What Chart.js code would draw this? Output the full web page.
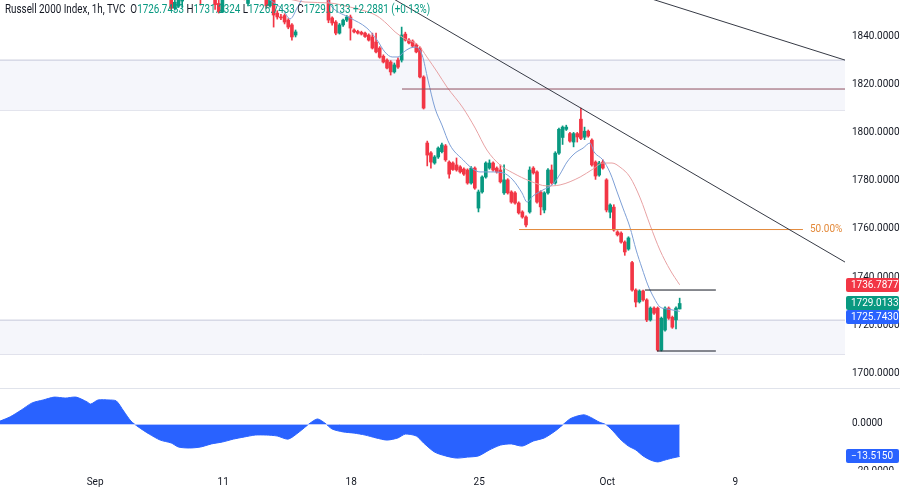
<!DOCTYPE html>
<html>
<head>
<meta charset="utf-8">
<title>Russell 2000 Index, 1h</title>
<script src="https://cdn.jsdelivr.net/npm/chart.js@4.4.0/dist/chart.umd.min.js"></script>
<style>
  html, body { margin: 0; padding: 0; background: #fff; }
  #wrap { position: relative; width: 900px; height: 491px; }
  #title {
    position: absolute; left: 5px; top: 2px;
    font: 12px Roboto, sans-serif;
    color: #131722; white-space: nowrap;
    transform: scaleX(0.82); transform-origin: 0 0;
  }
  #title .v { color: #089981; }
</style>
</head>
<body>
<div id="wrap">
  <canvas id="rutChart" width="900" height="491"></canvas>
  <div id="title">Russell 2000 Index, 1h, TVC&nbsp; O<span class="v">1726.7433</span> H<span class="v">1731.2324</span> L<span class="v">1726.7433</span> C<span class="v">1729.0133</span> <span class="v">+2.2881 (+0.13%)</span></div>
</div>
<script>
// hourly bars, x = bar number (the first visible candle is bar 46)
const firstBar = 46;

const opens = [
  1857.0,1851.5,1852.5,1854.5,1857.5,1859.0,1860.5,1858.5,1860.0,1858.0,
  1861.0,1860.0,1857.0,1853.5,1850.0,1856.5,1859.5,1860.5,1859.0,1858.0,
  1857.5,1853.5,1857.5,1860.0,1859.0,1858.5,1857.0,1852.5,1857.0,1849.5,
  1847.9,1848.5,1846.6,1844.6,1840.4,1857.0,1858.5,1861.0,1860.0,1861.5,
  1859.5,1860.5,1859.0,1857.0,1847.5,1845.8,1841.2,1844.6,1846.6,1847.9,
  1842.5,1841.9,1841.5,1841.2,1840.4,1839.6,1837.5,1835.0,1831.6,1830.0,
  1829.2,1825.1,1830.0,1830.0,1840.8,1838.3,1837.9,1836.3,1835.0,1823.0,
  1795.6,1791.5,1787.3,1789.8,1792.0,1794.4,1787.7,1787.3,1786.5,1785.7,
  1784.8,1784.4,1779.0,1785.2,1768.6,1775.3,1781.5,1785.2,1787.3,1785.2,
  1784.4,1774.9,1780.3,1775.3,1774.9,1770.7,1767.0,1764.9,1767.0,1785.2,
  1783.6,1775.3,1767.8,1774.9,1784.4,1779.0,1791.4,1797.9,1801.3,1799.5,
  1796.0,1799.5,1805.5,1798.0,1800.5,1796.8,1787.7,1782.3,1787.7,1780.3,
  1766.9,1769.0,1758.7,1758.2,1754.5,1751.6,1746.0,1734.6,1729.7,1734.2,
  1730.5,1722.2,1727.1,1727.1,1709.7,1718.0,1727.1,1723.3,1722.2,1726.7433
];
const highs = [
  1859.5,1855.5,1857.0,1859.0,1861.0,1862.0,1862.5,1861.0,1861.5,1862.0,
  1863.0,1861.5,1858.0,1855.5,1857.0,1860.5,1862.0,1862.5,1861.0,1860.5,
  1858.5,1858.5,1861.0,1862.0,1861.0,1860.5,1858.5,1857.5,1858.0,1850.5,
  1849.0,1849.2,1847.2,1845.2,1842.5,1860.0,1862.0,1863.5,1862.0,1863.0,
  1861.5,1862.0,1860.5,1858.5,1848.0,1846.4,1845.2,1847.0,1848.5,1848.7,
  1843.0,1842.4,1842.0,1841.6,1840.9,1841.2,1841.2,1835.6,1832.2,1830.5,
  1829.8,1828.8,1830.9,1843.7,1841.6,1838.9,1838.4,1836.9,1835.5,1823.5,
  1796.4,1792.0,1790.4,1794.0,1795.6,1795.0,1788.2,1787.8,1789.4,1786.2,
  1785.3,1784.9,1785.8,1785.7,1776.1,1782.0,1787.8,1788.6,1787.8,1785.7,
  1786.5,1786.5,1780.8,1775.8,1775.4,1771.2,1767.5,1765.4,1785.7,1785.8,
  1784.1,1775.8,1775.4,1785.0,1786.5,1792.0,1801.8,1802.7,1803.0,1800.0,
  1800.0,1800.0,1810.1,1802.2,1801.0,1797.3,1788.2,1788.0,1788.6,1780.8,
  1770.4,1770.0,1759.2,1758.7,1755.0,1756.7,1746.5,1735.1,1734.7,1734.6,
  1731.0,1727.6,1727.6,1727.6,1723.4,1727.6,1727.6,1723.8,1727.6,1731.2324
];
const lows = [
  1850.5,1850.8,1851.8,1852.0,1855.5,1857.0,1857.5,1856.5,1852.8,1857.0,
  1859.0,1856.0,1851.0,1849.5,1849.8,1855.5,1858.0,1858.5,1857.0,1856.5,
  1855.0,1852.5,1856.5,1858.0,1857.0,1856.5,1851.5,1852.0,1843.7,1847.0,
  1846.8,1845.0,1843.0,1838.3,1839.6,1855.5,1857.0,1859.5,1858.0,1859.0,
  1857.5,1858.5,1856.5,1845.5,1844.5,1840.5,1840.8,1844.0,1846.0,1838.3,
  1841.3,1840.8,1840.4,1839.4,1837.9,1834.6,1833.0,1830.8,1828.8,1826.3,
  1823.8,1824.6,1826.6,1829.2,1837.9,1836.7,1835.4,1833.0,1822.6,1809.7,
  1786.1,1785.2,1786.8,1789.2,1791.5,1788.0,1781.0,1784.2,1783.9,1783.1,
  1782.2,1778.5,1778.5,1776.4,1767.0,1774.8,1781.0,1784.7,1783.9,1783.1,
  1779.0,1774.3,1774.4,1770.6,1770.2,1766.1,1764.4,1760.8,1766.5,1782.7,
  1770.6,1765.8,1766.6,1774.4,1778.5,1778.5,1790.9,1795.0,1800.8,1795.9,
  1794.0,1796.0,1797.0,1797.0,1798.0,1786.0,1780.5,1781.8,1784.7,1767.0,
  1764.5,1759.0,1757.0,1754.0,1749.0,1751.1,1734.1,1727.6,1729.2,1730.0,
  1721.5,1721.7,1724.5,1709.3,1709.3,1717.5,1722.4,1718.7,1718.5,1726.7433
];
const closes = [
  1851.5,1854.0,1855.8,1857.5,1859.0,1860.5,1858.5,1860.0,1858.0,1861.0,
  1860.0,1857.0,1853.0,1850.0,1856.5,1859.5,1860.5,1859.0,1858.0,1857.5,
  1856.0,1857.5,1860.0,1859.0,1858.5,1857.0,1852.5,1856.5,1848.7,1847.9,
  1847.5,1845.8,1843.7,1839.6,1841.7,1858.5,1861.0,1860.0,1861.5,1859.5,
  1860.5,1859.0,1857.5,1846.6,1845.4,1841.2,1844.6,1846.6,1847.9,1843.3,
  1841.7,1841.2,1840.8,1839.8,1838.3,1835.0,1833.4,1831.2,1829.2,1826.7,
  1825.1,1828.0,1827.1,1840.4,1838.3,1837.1,1835.8,1833.4,1823.0,1810.1,
  1790.6,1787.7,1789.8,1793.5,1794.8,1788.6,1782.7,1784.6,1784.4,1783.6,
  1782.7,1779.0,1785.2,1776.9,1775.3,1781.5,1787.3,1787.3,1784.4,1783.6,
  1779.5,1780.3,1774.9,1771.1,1770.7,1766.6,1764.9,1761.6,1784.4,1783.2,
  1771.1,1769.1,1774.9,1784.4,1779.0,1791.4,1801.3,1802.2,1802.2,1796.4,
  1799.5,1798.1,1797.5,1800.5,1798.5,1786.5,1781.9,1787.3,1785.2,1767.8,
  1769.9,1759.5,1757.5,1754.5,1750.4,1756.2,1734.6,1729.6,1734.2,1730.5,
  1722.2,1727.1,1725.0,1709.7,1722.9,1727.1,1722.9,1719.2,1727.1,1729.0133
];

// moving averages (bar, value)
const fastMaBars = [70.8,73.0,76.6,78.5,80.7,82.9,88.0,90.2,94.9,99.5,102.3,104.4,106.4,108.0,109.6,111.3,112.9,114.6,116.2,118.1,120.0,122.2,125.8,128.5,130.4,133.2,136.7,139.4,141.9,143.3,144.9,147.6,150.4,152.3,154.2,156.4,158.6,160.5,161.6,164.0,166.0,167.9,169.5,171.4,173.1,174.7,176.3,178.0,179.6,181.8,185];
const fastMaVals = [1857.0,1854.9,1850.8,1847.1,1852.4,1857.4,1856.2,1851.6,1847.5,1843.3,1838.3,1833.4,1831.3,1831.3,1833.4,1835.0,1835.4,1832.1,1821.7,1810.1,1803.1,1794.8,1788.6,1784.8,1783.6,1783.6,1783.2,1780.3,1774.9,1771.1,1773.6,1776.1,1778.6,1782.7,1787.7,1791.4,1793.5,1795.6,1791.9,1788.6,1783.2,1775.3,1768.6,1760.7,1751.2,1743.7,1736.7,1731.3,1727.6,1726.7,1725.7430];
const slowMaBars = [71.6,77.1,82.6,89.4,94.9,99.0,102.3,105.0,107.2,109.9,113.5,115.9,118.7,121.4,125.8,129.1,132.3,135.9,139.4,144.1,148.7,152.3,157.8,161.3,164.0,166.5,168.7,171.4,174.2,176.9,179.6,182.4,185];
const slowMaVals = [1858.3,1855.8,1854.1,1853.7,1852.0,1850.4,1848.3,1845.0,1841.7,1838.8,1836.3,1831.3,1825.1,1818.8,1810.1,1801.8,1792.7,1786.5,1783.2,1779.8,1777.8,1778.2,1781.5,1784.8,1787.3,1787.3,1785.6,1781.5,1772.8,1761.6,1751.2,1742.9,1736.7877];

// oscillator in the lower pane
const oscBars = [-0.8,2,5,8,11,14,17,20,23,24,26,29,31,33,35,37,40,43,46,48,51,54,57,60,63,66,69,72,75,78,81,84,86,88,90,93,96,99,102,105,108,110,113,115,118,121,124,127,130,133,136,139,142,145,148,151,153,155,157,159,161,163,165,167,169,171,173,175,177,179,181,183,185];
const oscVals = [1.2,3.0,5.8,8.8,10.0,11.2,10.8,11.2,9.2,8.3,10.0,10.0,9.6,5.4,1.2,-1.2,-4.2,-6.7,-7.9,-9.6,-10.0,-9.6,-8.3,-7.5,-6.3,-5.4,-4.6,-4.6,-5.0,-6.3,-3.3,0.4,2.1,0.4,-2.1,-3.3,-3.8,-4.6,-5.8,-6.7,-5.8,-4.2,-5.0,-7.9,-11.7,-13.3,-14.2,-13.8,-13.3,-10.8,-8.8,-8.3,-9.2,-7.1,-5.8,-2.9,-0.4,2.1,3.3,3.8,2.5,0.8,-0.4,-3.3,-6.7,-9.2,-10.8,-13.3,-15.0,-15.8,-15.0,-14.2,-13.515];

// drawings
const upperZone = [1830.0, 1809.3];
const lowerZone = [1722.1, 1708.0];
const midLevelBars = [109.1, 230.2];
const midLevelPrice = 1818.0;
const fibBars = [141.1, 218.7];
const fibPrice = 1759.7;
const boxTopBars = [175.5, 194.9];
const boxTopPrice = 1734.6;
const boxBottomBars = [178.8, 194.9];
const boxBottomPrice = 1709.3;
const trendMainBars = [100, 230.2];
const trendMainPrices = [1861.4, 1746.2];
const trendUpperBars = [170, 230.2];
const trendUpperPrices = [1858.9, 1830.0];

// axes
const dayBars = [25.2, 60.2, 95.2, 130.2, 165.2, 200.2];
const dayLabels = ['Sep', '11', '18', '25', 'Oct', '9'];
const priceTicks = [1700, 1720, 1740, 1760, 1780, 1800, 1820, 1840];
const oscTicks = [0, -20];
const priceTags = [1736.7877, 1729.0133, 1725.7430];

const UP = '#089981', DOWN = '#f23645', BLUE = '#2962ff', TEXT = '#131722';
const FIB = '#e3893a';
const FONT = "Roboto, sans-serif";
const tagColors = [DOWN, UP, BLUE];
const xEdges = [-0.8, 230.2];

const candleColors = closes.map((c, i) => c >= opens[i] ? UP : DOWN);
const wickData = highs.map((h, i) => ({ x: firstBar + i, y: [lows[i], h] }));
const bodyData = opens.map((o, i) => ({ x: firstBar + i, y: [o, closes[i]] }));
const pts = (bars, vals) => bars.map((b, i) => ({ x: b, y: Array.isArray(vals) ? vals[i] : vals }));

function seg(data, color, order, extra) {
  return Object.assign({
    type: 'line', data: data, borderColor: color, borderWidth: 1,
    pointRadius: 0, fill: false, yAxisID: 'y', order: order
  }, extra || {});
}

// no label padding around the axes, so the panes fill the canvas
function noPad(s) {
  s.paddingTop = 0; s.paddingBottom = 0; s.paddingLeft = 0; s.paddingRight = 0;
}

const panePlugin = {
  id: 'panes',
  afterDatasetsDraw(chart) {
    const { ctx, scales: { x, yOsc } } = chart;
    const y0 = Math.round(yOsc.getPixelForValue(0)) + 0.5;
    ctx.save();
    ctx.strokeStyle = 'rgba(190,205,255,0.9)';
    ctx.lineWidth = 1;
    ctx.beginPath();
    ctx.moveTo(x.getPixelForValue(oscBars[0]), y0);
    ctx.lineTo(x.getPixelForValue(oscBars[oscBars.length - 1]), y0);
    ctx.stroke();
    ctx.restore();
  },
  afterDraw(chart) {
    const { ctx, scales: { x, y, yOsc } } = chart;
    ctx.save();
    // pane separator
    const sep = Math.round(yOsc.top) + 0.5;
    ctx.strokeStyle = '#e0e3eb';
    ctx.beginPath(); ctx.moveTo(0, sep); ctx.lineTo(chart.width, sep); ctx.stroke();

    ctx.font = '10px ' + FONT;
    ctx.textBaseline = 'middle';
    ctx.textAlign = 'left';
    // fib label
    ctx.fillStyle = FIB;
    ctx.fillText('50.00%', x.getPixelForValue(fibBars[1]) + 7, y.getPixelForValue(fibPrice));

    // lower pane label that is cut by the pane edge
    ctx.save();
    ctx.beginPath(); ctx.rect(yOsc.left, yOsc.top, yOsc.width, yOsc.bottom - yOsc.top); ctx.clip();
    ctx.fillStyle = TEXT;
    ctx.fillText('\u2212' + Math.abs(oscTicks[1]).toFixed(4), yOsc.left + 7, yOsc.getPixelForValue(oscTicks[1]));
    ctx.restore();

    // price tags
    const tags = priceTags.map((v, i) => ({ v: v, c: tagColors[i], p: y.getPixelForValue(v) }))
      .sort((a, b) => a.p - b.p);
    let prev = -100;
    tags.forEach(t => {
      const p = Math.max(t.p, prev + 14);
      prev = p;
      drawTag(ctx, y.left + 1, p, t.v.toFixed(4), t.c);
    });
    const lastOsc = oscVals[oscVals.length - 1];
    drawTag(ctx, yOsc.left + 1, yOsc.getPixelForValue(lastOsc), '\u2212' + Math.abs(lastOsc).toFixed(4), BLUE);
    ctx.restore();
  }
};

function drawTag(ctx, left, yPix, text, color) {
  ctx.fillStyle = color;
  ctx.beginPath();
  ctx.roundRect(left, Math.round(yPix) - 7, 53, 14, 2);
  ctx.fill();
  ctx.fillStyle = '#ffffff';
  ctx.fillText(text, left + 5, Math.round(yPix) + 0.5);
}

Chart.defaults.font.family = FONT;
Chart.defaults.font.size = 10;
Chart.defaults.color = TEXT;

new Chart(document.getElementById('rutChart'), {
  type: 'bar',
  data: {
    datasets: [
      seg(pts(trendMainBars, trendMainPrices), '#363a45', 0),
      seg(pts(trendUpperBars, trendUpperPrices), '#363a45', 0),
      seg(pts(boxTopBars, boxTopPrice), '#131722', 0),
      seg(pts(boxBottomBars, boxBottomPrice), '#131722', 0),
      seg(pts(fibBars, fibPrice), FIB, 0),
      seg(pts(midLevelBars, midLevelPrice), '#8f4f5f', 0),
      seg(pts(fastMaBars, fastMaVals), '#7d9fd6', 1, { cubicInterpolationMode: 'monotone' }),
      seg(pts(slowMaBars, slowMaVals), '#e8a2a4', 1, { cubicInterpolationMode: 'monotone' }),
      {
        type: 'bar', data: bodyData, backgroundColor: candleColors,
        barThickness: 3, grouped: false, minBarLength: 1, yAxisID: 'y', order: 2
      },
      {
        type: 'bar', data: wickData, backgroundColor: candleColors,
        barThickness: 1, grouped: false, yAxisID: 'y', order: 3
      },
      seg(pts(xEdges, upperZone[0]), '#c5c8da', 5, { fill: '+1', backgroundColor: '#f5f6fb' }),
      seg(pts(xEdges, upperZone[1]), '#c5c8da', 5),
      seg(pts(xEdges, lowerZone[0]), '#c5c8da', 5, { fill: '+1', backgroundColor: '#f5f6fb' }),
      seg(pts(xEdges, lowerZone[1]), '#c5c8da', 5),
      seg(pts(oscBars, oscVals), BLUE, 4, {
        yAxisID: 'yOsc', fill: 'origin', backgroundColor: BLUE, tension: 0.25
      })
    ]
  },
  options: {
    responsive: false,
    animation: false,
    devicePixelRatio: 1,
    events: [],
    layout: { padding: 0, autoPadding: false },
    plugins: { legend: { display: false }, tooltip: { enabled: false } },
    scales: {
      x: {
        type: 'linear', min: xEdges[0], max: xEdges[1], offset: false,
        grid: { display: false, drawTicks: false }, border: { display: false },
        ticks: {
          autoSkip: false, maxRotation: 0, padding: 6,
          callback: (v, i) => dayLabels[i]
        },
        afterBuildTicks: s => { s.ticks = dayBars.map(v => ({ value: v })); },
        afterFit: s => { s.height = 21; noPad(s); }
      },
      y: {
        type: 'linear', position: 'right', stack: 'pane', stackWeight: 388,
        min: 1693.95, max: 1854.94,
        grid: { display: false, drawTicks: false }, border: { display: false },
        ticks: { padding: 7, includeBounds: false, callback: v => v.toFixed(4) },
        afterBuildTicks: s => { s.ticks = priceTicks.map(v => ({ value: v })); },
        afterFit: s => { s.width = 55; noPad(s); }
      },
      yOsc: {
        type: 'linear', position: 'right', stack: 'pane', stackWeight: 82,
        min: -19.17, max: 15,
        grid: { display: false, drawTicks: false }, border: { display: false },
        ticks: { padding: 7, includeBounds: false, callback: v => v.toFixed(4) },
        afterBuildTicks: s => { s.ticks = [{ value: oscTicks[0] }]; },
        afterFit: s => { s.width = 55; noPad(s); }
      }
    }
  },
  plugins: [panePlugin]
});
</script>
</body>
</html>
